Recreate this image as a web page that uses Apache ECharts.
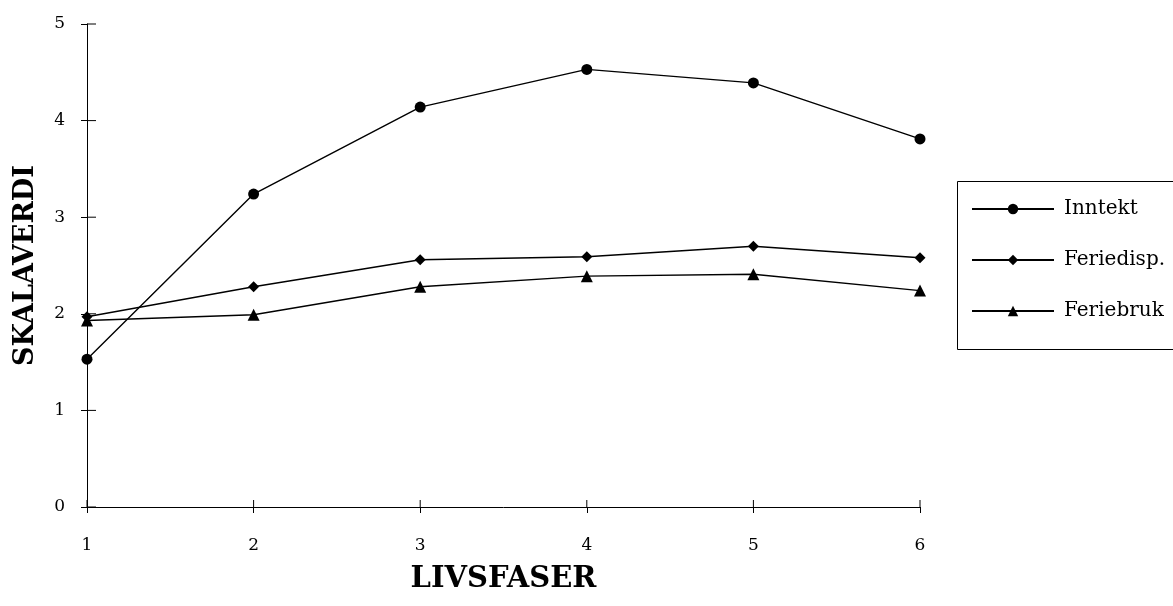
<!DOCTYPE html>
<html>
<head>
<meta charset="utf-8">
<script src="https://cdn.jsdelivr.net/npm/echarts@6/dist/echarts.min.js"></script>
<style>
html,body{margin:0;padding:0;background:#fff;}
#chart{width:1173px;height:606px;}
</style>
</head>
<body>
<div id="chart"></div>
<script>
// Data
var phases = [1, 2, 3, 4, 5, 6];
var inntekt = [1.53, 3.24, 4.14, 4.53, 4.39, 3.81];
var feriedisp = [1.97, 2.28, 2.56, 2.59, 2.70, 2.58];
var feriebruk = [1.93, 1.99, 2.28, 2.39, 2.41, 2.24];
var yTicks = [0, 1, 2, 3, 4, 5];
var seriesNames = ['Inntekt', 'Feriedisp.', 'Feriebruk'];
var xTitle = 'LIVSFASER';
var yTitle = 'SKALAVERDI';

function pairs(vals) { return phases.map(function (p, i) { return [p, vals[i]]; }); }

var FONT = 'DejaVu Serif';
var chart = echarts.init(document.getElementById('chart'));

function lineSeries(name, vals, symbol, size) {
  return {
    name: name, type: 'line', data: pairs(vals),
    symbol: symbol, symbolSize: size, showAllSymbol: true,
    lineStyle: { color: '#000', width: 1.4 },
    itemStyle: { color: '#000', borderWidth: 0 },
    emphasis: { disabled: true },
    animation: false
  };
}

// inner halves of the crossing tick marks, placed through the axes' own scales
var tickMarks = phases.map(function (p) { return [p, 0, 0]; })
  .concat(yTicks.map(function (t) { return [1, t, 1]; }));

var axisLineStyle = { color: '#000', width: 1 };

chart.setOption({
  backgroundColor: '#fff',
  animation: false,
  grid: { left: 87, right: 253, top: 24, bottom: 99, containLabel: false },
  xAxis: {
    type: 'value', min: 1, max: 6, interval: 1, position: 'bottom',
    name: xTitle, nameLocation: 'middle', nameGap: 58,
    nameTextStyle: { fontFamily: FONT, fontWeight: 'bold', fontSize: 29, color: '#000' },
    axisLine: { show: true, onZero: false, lineStyle: axisLineStyle },
    axisTick: { show: true, inside: false, length: 6, lineStyle: axisLineStyle },
    axisLabel: { fontFamily: FONT, fontSize: 17, color: '#000', margin: 30 },
    splitLine: { show: false }
  },
  yAxis: {
    type: 'value', min: 0, max: 5, interval: 1, position: 'left',
    name: yTitle, nameLocation: 'middle', nameGap: 48, nameRotate: 90,
    nameTextStyle: { fontFamily: FONT, fontWeight: 'bold', fontSize: 27, color: '#000' },
    axisLine: { show: true, onZero: false, lineStyle: axisLineStyle },
    axisTick: { show: true, inside: false, length: 6, lineStyle: axisLineStyle },
    axisLabel: { fontFamily: FONT, fontSize: 17, color: '#000', margin: 22 },
    splitLine: { show: false }
  },
  legend: {
    orient: 'vertical', left: 971, top: 199, padding: 0,
    itemWidth: 82, itemHeight: 13, itemGap: 31,
    textStyle: { fontFamily: FONT, fontSize: 20, color: '#000', lineHeight: 20, padding: [0, 0, 0, 5] },
    data: seriesNames,
    selectedMode: false
  },
  graphic: [
    {
      type: 'rect', left: 955, top: 179,
      shape: { width: 230, height: 168 },
      style: { fill: 'none', stroke: '#000', lineWidth: 1 },
      silent: true
    }
  ],
  series: [
    {
      type: 'custom', name: 'ticks', silent: true, z: 1,
      data: tickMarks,
      renderItem: function (params, api) {
        var pt = api.coord([api.value(0), api.value(1)]);
        var horiz = api.value(2) === 1;
        var x2 = horiz ? pt[0] + 9 : pt[0];
        var y2 = horiz ? pt[1] : pt[1] - 7;
        return {
          type: 'line',
          shape: { x1: pt[0], y1: pt[1], x2: x2, y2: y2 },
          style: { stroke: '#000', lineWidth: 1 }
        };
      },
      animation: false
    },
    lineSeries(seriesNames[0], inntekt, 'circle', 11),
    lineSeries(seriesNames[1], feriedisp, 'diamond', 11),
    lineSeries(seriesNames[2], feriebruk, 'triangle', 12)
  ]
});
</script>
</body>
</html>
